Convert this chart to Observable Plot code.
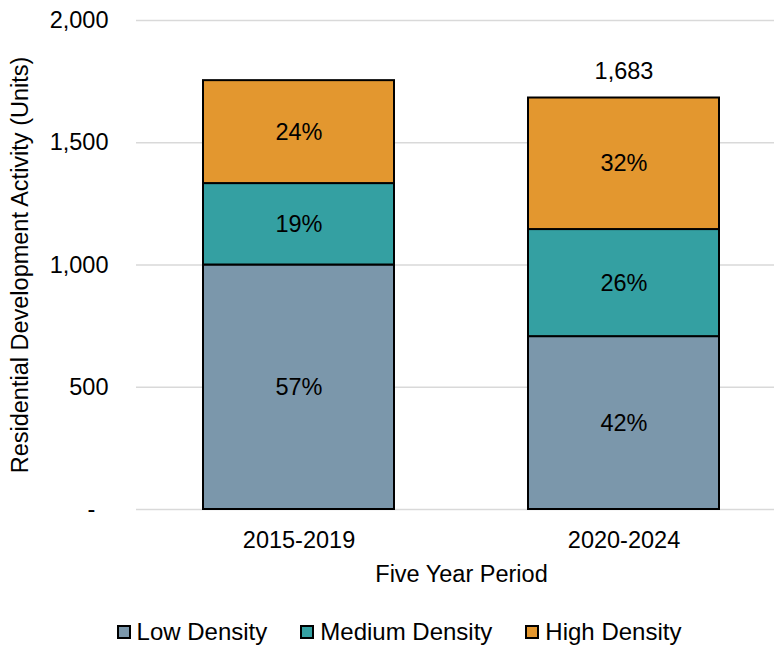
<!DOCTYPE html>
<html>
<head>
<meta charset="utf-8">
<script src="https://cdn.jsdelivr.net/npm/d3@7"></script>
<script src="https://cdn.jsdelivr.net/npm/@observablehq/plot@0.6"></script>
<style>
  html, body { margin: 0; padding: 0; background: #fff; }
  body { width: 774px; height: 647px; overflow: hidden; font-family: "Liberation Sans", Arial, sans-serif; }
  #legend { display: flex; justify-content: center; gap: 33px; padding-top: 19px; padding-left: 24px; font-size: 24px; line-height: 26px; color: #000; }
  #legend .item { display: flex; align-items: center; }
  #legend .sw { width: 14px; height: 14px; border: 2px solid #000; box-sizing: border-box; margin-right: 6px; }
</style>
</head>
<body>
<div id="chart"></div>
<div id="legend"></div>
<script>
const periods = ["2015-2019", "2020-2024"];
const densities = ["Low Density", "Medium Density", "High Density"];
const colors = ["#7b97ab", "#34a0a2", "#e3972f"];
const lowValues = [1000, 707];
const mediumValues = [333, 438];
const highValues = [421, 538];
const totalLabels = ["", "1,683"];
const yTicks = [0, 500, 1000, 1500, 2000];

const seriesValues = [lowValues, mediumValues, highValues];
const data = [];
periods.forEach((p, i) => {
  const total = lowValues[i] + mediumValues[i] + highValues[i];
  densities.forEach((d, j) => {
    const v = seriesValues[j][i];
    data.push({period: p, density: d, value: v, pct: Math.round(100 * v / total) + "%"});
  });
});
const totals = periods.map((p, i) => ({
  period: p,
  total: lowValues[i] + mediumValues[i] + highValues[i],
  label: totalLabels[i]
}));

const fmt = d => d === 0 ? "-\u00a0\u00a0" : d3.format(",")(d);
const FS = 23.5;

const chart = Plot.plot({
  width: 774,
  height: 600,
  marginLeft: 136,
  marginRight: -12,
  marginTop: 20,
  marginBottom: 91,
  style: {fontFamily: "Liberation Sans, Arial, sans-serif", fontSize: FS + "px", color: "#000", background: "#fff"},
  x: {domain: periods, paddingInner: 0.412, paddingOuter: 0.206, label: "Five Year Period"},
  y: {domain: [0, 2000], ticks: yTicks, label: "Residential Development Activity (Units)"},
  color: {domain: densities, range: colors},
  marks: [
    Plot.ruleY(yTicks, {stroke: "#d9d9d9", strokeWidth: 1.5}),
    Plot.barY(data, Plot.stackY({order: null}, {x: "period", y: "value", z: "density", fill: "density", stroke: "#000", strokeWidth: 2})),
    Plot.text(data, Plot.stackY({order: null}, {x: "period", y: "value", z: "density", text: "pct", fill: "#000", fontSize: FS})),
    Plot.text(totals.filter(d => d.label), {x: "period", y: "total", text: "label", dy: -27, fill: "#000", fontSize: FS}),
    Plot.axisY({ticks: yTicks, tickFormat: fmt, tickSize: 0, tickPadding: 28, fontSize: FS, label: "Residential Development Activity (Units)", labelAnchor: "center", labelArrow: "none", labelOffset: 125}),
    Plot.axisX({tickSize: 0, tickPadding: 22, fontSize: FS, label: "Five Year Period", labelAnchor: "center", labelArrow: "none", labelOffset: 72})
  ]
});
document.getElementById("chart").appendChild(chart);

const legend = document.getElementById("legend");
densities.forEach((d, j) => {
  const item = document.createElement("div");
  item.className = "item";
  const sw = document.createElement("span");
  sw.className = "sw";
  sw.style.background = colors[j];
  const t = document.createElement("span");
  t.textContent = d;
  item.appendChild(sw);
  item.appendChild(t);
  legend.appendChild(item);
});
</script>
</body>
</html>
